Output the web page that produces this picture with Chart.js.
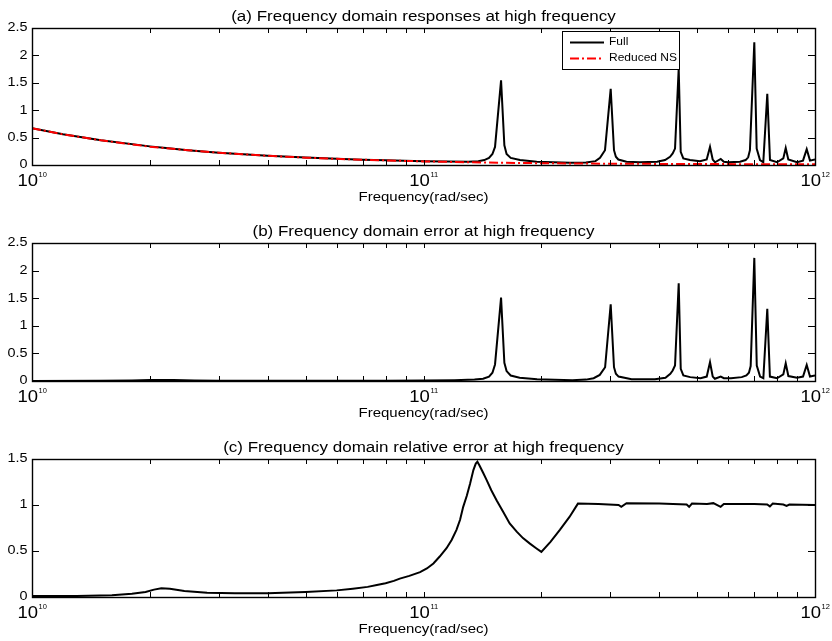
<!DOCTYPE html>
<html>
<head>
<meta charset="utf-8">
<script src="https://cdn.jsdelivr.net/npm/chart.js@4.4.0/dist/chart.umd.min.js"></script>
<style>
  html, body { margin: 0; padding: 0; background: #fff; }
  #wrap { position: relative; width: 832px; height: 641px; overflow: hidden; background: #fff; }
  canvas { position: absolute; left: 0; }
</style>
</head>
<body>
<div id="wrap">
  <canvas id="pa" width="832" height="214" style="top:0px"></canvas>
  <canvas id="pb" width="832" height="216" style="top:214px"></canvas>
  <canvas id="pc" width="832" height="211" style="top:430px"></canvas>
</div>
<script>
// ---- (a) full model response vs. reduced model (rad/sec, magnitude) ----
const freqFull = [
  1e10, 1.2e10, 1.5e10, 2e10, 2.2e10, 2.5e10, 3e10, 4e10, 5e10, 6e10, 7e10, 8e10, 1e11,
  1.15e11, 1.3e11, 1.38e11, 1.43e11, 1.47e11, 1.5e11, 1.523e11, 1.578e11, 1.609e11, 1.63e11, 1.67e11,
  1.764e11, 1.946e11, 2.37e11, 2.6e11, 2.75e11, 2.824e11, 2.908e11, 3.007e11, 3.066e11, 3.1e11,
  3.145e11, 3.3e11, 3.57e11,
  3.95e11, 4.14e11, 4.263e11, 4.33e11, 4.39e11, 4.486e11, 4.539e11, 4.609e11, 4.794e11, 5.085e11,
  5.289e11, 5.393e11, 5.479e11, 5.554e11, 5.744e11, 5.85e11, 6.0e11, 6.434e11,
  6.65e11, 6.75e11, 6.82e11, 6.998e11, 7.096e11, 7.236e11, 7.378e11, 7.553e11, 7.674e11, 7.998e11,
  8.299e11, 8.418e11, 8.547e11, 8.995e11, 9.318e11, 9.524e11, 9.71e11, 1e12
];
const magFull = [
  0.67, 0.56, 0.45, 0.34, 0.31, 0.27, 0.225, 0.17, 0.135, 0.113, 0.097, 0.086, 0.07,
  0.063, 0.06, 0.07, 0.09, 0.13, 0.2, 0.33, 1.545, 0.36, 0.2, 0.13,
  0.09, 0.06, 0.04, 0.045, 0.07, 0.13, 0.27, 1.39, 0.27, 0.15,
  0.1, 0.06, 0.05,
  0.06, 0.09, 0.15, 0.21, 0.3, 1.76, 0.24, 0.12, 0.09, 0.07,
  0.1, 0.33, 0.1, 0.05, 0.11, 0.06, 0.05, 0.06,
  0.09, 0.14, 0.27, 2.24, 0.3, 0.09, 0.05, 1.30, 0.09, 0.05,
  0.12, 0.31, 0.1, 0.05, 0.08, 0.29, 0.08, 0.1
];
const freqReduced = [
  1e10, 1.2e10, 1.5e10, 2e10, 2.5e10, 3e10, 4e10, 5e10, 6e10, 7e10, 8e10, 1e11,
  1.3e11, 1.6e11, 2e11, 2.5e11, 3e11, 4e11, 5e11, 6e11, 8e11, 1e12
];
const magReduced = [
  0.67, 0.56, 0.45, 0.335, 0.27, 0.225, 0.168, 0.134, 0.112, 0.096, 0.084, 0.066,
  0.05, 0.04, 0.033, 0.027, 0.024, 0.02, 0.018, 0.016, 0.014, 0.012
];

// ---- (b) absolute error ----
const freqErr = [
  1e10, 1.5e10, 1.8e10, 2e10, 2.15e10, 2.3e10, 2.6e10, 3e10, 4e10, 6e10, 8e10, 1e11,
  1.2e11, 1.35e11, 1.42e11, 1.47e11, 1.5e11, 1.523e11, 1.578e11, 1.609e11, 1.63e11, 1.67e11, 1.76e11, 1.95e11,
  2.4e11, 2.6e11, 2.72e11, 2.82e11, 2.91e11, 3.007e11, 3.066e11, 3.1e11, 3.15e11, 3.4e11,
  3.9e11, 4.15e11, 4.27e11, 4.33e11, 4.39e11, 4.486e11, 4.54e11, 4.61e11, 4.8e11, 5.1e11,
  5.29e11, 5.393e11, 5.48e11, 5.55e11, 5.744e11, 5.85e11, 6.1e11, 6.5e11,
  6.68e11, 6.78e11, 6.85e11, 6.998e11, 7.1e11, 7.24e11, 7.38e11, 7.553e11, 7.67e11, 8.0e11,
  8.3e11, 8.418e11, 8.55e11, 9.0e11, 9.32e11, 9.524e11, 9.71e11, 1e12
];
const magErr = [
  0.002, 0.004, 0.01, 0.016, 0.02, 0.017, 0.008, 0.004, 0.003, 0.004, 0.006, 0.01,
  0.015, 0.025, 0.04, 0.08, 0.15, 0.3, 1.51, 0.33, 0.18, 0.1, 0.06, 0.03,
  0.015, 0.025, 0.05, 0.11, 0.25, 1.39, 0.25, 0.13, 0.08, 0.03,
  0.03, 0.06, 0.13, 0.19, 0.28, 1.77, 0.22, 0.1, 0.07, 0.05,
  0.08, 0.34, 0.08, 0.04, 0.08, 0.05, 0.05, 0.07,
  0.1, 0.15, 0.27, 2.23, 0.28, 0.08, 0.05, 1.31, 0.08, 0.05,
  0.12, 0.32, 0.09, 0.06, 0.08, 0.29, 0.08, 0.1
];

// ---- (c) relative error ----
const freqRel = [
  1e10, 1.3e10, 1.6e10, 1.8e10, 1.95e10, 2.05e10, 2.14e10, 2.25e10, 2.45e10, 2.8e10, 3.3e10,
  4e10, 5e10, 6e10, 6.6e10, 7.2e10, 7.6e10, 8e10, 8.4e10, 8.7e10, 9.2e10, 9.8e10,
  1.02e11, 1.06e11, 1.1e11, 1.145e11, 1.18e11, 1.214e11, 1.24e11, 1.263e11, 1.29e11,
  1.315e11, 1.341e11, 1.36e11, 1.373e11, 1.39e11, 1.42e11, 1.45e11, 1.49e11, 1.538e11,
  1.6e11, 1.66e11, 1.73e11, 1.795e11, 1.87e11, 1.94e11, 2.0e11, 2.11e11, 2.23e11, 2.36e11, 2.48e11,
  2.8e11, 3.15e11, 3.2e11, 3.3e11, 4.0e11, 4.7e11, 4.77e11, 4.85e11, 5.3e11, 5.5e11, 5.74e11,
  5.85e11, 7.0e11, 7.55e11, 7.67e11, 7.8e11, 8.3e11, 8.46e11, 8.6e11, 1e12
];
const magRel = [
  0.01, 0.012, 0.02, 0.035, 0.055, 0.08, 0.095, 0.09, 0.065, 0.045, 0.04,
  0.04, 0.055, 0.072, 0.09, 0.11, 0.13, 0.15, 0.175, 0.2, 0.23, 0.27,
  0.31, 0.365, 0.44, 0.53, 0.62, 0.73, 0.84, 0.98, 1.1,
  1.23, 1.38, 1.45, 1.47, 1.43, 1.35, 1.27, 1.16, 1.05,
  0.92, 0.8, 0.71, 0.64, 0.58, 0.53, 0.49, 0.6, 0.73, 0.87, 1.015,
  1.01, 1.0, 0.98, 1.02, 1.015, 1.005, 0.98, 1.015, 1.01, 1.02, 0.98,
  1.01, 1.01, 1.005, 0.985, 1.015, 1.005, 0.99, 1.005, 1.0
];

// ---- axes ----
const xMajorTicks = [1e10, 1e11, 1e12];
const yTicksAB = [0, 0.5, 1, 1.5, 2, 2.5];
const yTicksC = [0, 0.5, 1, 1.5];
const xLabel = 'Frequency(rad/sec)';
const titles = [
  '(a) Frequency domain responses at high frequency',
  '(b) Frequency domain error at high frequency',
  '(c) Frequency domain relative error at high frequency'
];

const FONT = '"Liberation Sans", Arial, Helvetica, sans-serif';
const SQ = 0.85; // glyphs are a little flatter than they are wide

function drawText(ctx, s, x, y, size, align, base) {
  ctx.save();
  ctx.translate(x, y);
  ctx.scale(1, SQ);
  ctx.font = size + 'px ' + FONT;
  ctx.textAlign = align;
  ctx.textBaseline = base;
  ctx.fillStyle = '#000';
  ctx.fillText(s, 0, 0);
  ctx.restore();
}

const pts = (xs, ys) => xs.map((x, i) => ({ x: x, y: ys[i] }));

// frame, inward ticks, labels, title and legend in the style of a classic axes box
const framePlugin = {
  id: 'frame',
  afterDraw(chart, args, opts) {
    const ctx = chart.ctx;
    const a = chart.chartArea;
    const xs = chart.scales.x, ys = chart.scales.y;
    ctx.save();
    ctx.strokeStyle = '#000';
    // ticks
    ctx.lineWidth = 1;
    ctx.beginPath();
    for (let e = 10; e < 12; e++) {
      for (let m = 1; m <= 9; m++) {
        const v = m * Math.pow(10, e);
        const px = Math.round(xs.getPixelForValue(v)) + 0.5;
        ctx.moveTo(px, a.bottom); ctx.lineTo(px, a.bottom - 5);
        ctx.moveTo(px, a.top); ctx.lineTo(px, a.top + 5);
      }
    }
    opts.yTicks.forEach(v => {
      const py = Math.round(ys.getPixelForValue(v)) + 0.5;
      ctx.moveTo(a.left, py); ctx.lineTo(a.left + 7, py);
      ctx.moveTo(a.right, py); ctx.lineTo(a.right - 7, py);
    });
    ctx.stroke();
    // legend box
    if (opts.legend) {
      const lx = a.right - 253, ly = a.top + 3, lw = 117, lh = 38;
      ctx.fillStyle = '#fff';
      ctx.fillRect(lx, ly, lw, lh);
      ctx.lineWidth = 1;
      ctx.strokeStyle = '#000';
      ctx.strokeRect(lx + 0.5, ly + 0.5, lw, lh);
      chart.data.datasets.forEach((ds, i) => {
        const yy = ly + 11.5 + i * 16;
        ctx.save();
        ctx.strokeStyle = ds.borderColor;
        ctx.lineWidth = ds.borderWidth;
        ctx.setLineDash(ds.borderDash || []);
        ctx.beginPath();
        ctx.moveTo(lx + 8, yy); ctx.lineTo(lx + 42, yy);
        ctx.stroke();
        ctx.restore();
        drawText(ctx, ds.label, lx + 47, yy, 12, 'left', 'middle');
      });
    }
    // box
    ctx.lineWidth = 1.4;
    ctx.strokeStyle = '#000';
    ctx.strokeRect(Math.round(a.left) + 0.5, Math.round(a.top) + 0.5,
                   Math.round(a.right - a.left), Math.round(a.bottom - a.top));
    ctx.restore();

    // y tick labels
    opts.yTicks.forEach(v => {
      drawText(ctx, String(v), a.left - 4.5, ys.getPixelForValue(v), 14.4, 'right', 'middle');
    });
    // x tick labels as 10^n
    xMajorTicks.forEach(v => {
      const p = xs.getPixelForValue(v);
      const ex = String(Math.round(Math.log10(v)));
      ctx.font = '18.5px ' + FONT;
      const wb = ctx.measureText('10').width;
      ctx.font = '7.5px ' + FONT;
      const we = ctx.measureText(ex).width;
      const x0 = p - (wb + we) / 2;
      drawText(ctx, '10', x0, a.bottom + 21, 18.5, 'left', 'alphabetic');
      drawText(ctx, ex, x0 + wb + 0.5, a.bottom + 12, 7.5, 'left', 'alphabetic');
    });
    // axis label and title
    const cx = (a.left + a.right) / 2;
    drawText(ctx, xLabel, cx, a.bottom + 36, 15, 'center', 'alphabetic');
    drawText(ctx, opts.title, cx, a.top - 7.5, 17, 'center', 'alphabetic');
  }
};

function makeChart(id, datasets, yMax, yTicks, title, legend, pad) {
  return new Chart(document.getElementById(id), {
    type: 'line',
    data: { datasets: datasets },
    options: {
      responsive: false,
      animation: false,
      events: [],
      layout: { padding: pad },
      elements: { point: { radius: 0 }, line: { tension: 0, borderCapStyle: 'butt' } },
      plugins: {
        legend: { display: false },
        title: { display: false },
        tooltip: { enabled: false },
        frame: { title: title, yTicks: yTicks, legend: legend }
      },
      scales: {
        x: {
          type: 'logarithmic', min: 1e10, max: 1e12,
          grid: { display: false }, border: { display: false },
          ticks: { display: false },
          afterFit: s => { s.height = 0; }
        },
        y: {
          type: 'linear', min: 0, max: yMax,
          grid: { display: false }, border: { display: false },
          ticks: { display: false, stepSize: 0.5 },
          afterFit: s => { s.width = 0; }
        }
      }
    },
    plugins: [framePlugin]
  });
}

makeChart('pa', [
  { label: 'Full', data: pts(freqFull, magFull), borderColor: '#000', borderWidth: 2, order: 2 },
  { label: 'Reduced NS', data: pts(freqReduced, magReduced), borderColor: '#ff0000', borderWidth: 2,
    borderDash: [9, 3, 2, 3], order: 1 }
], 2.5, yTicksAB, titles[0], true, { left: 32, right: 17, top: 28, bottom: 49 });

makeChart('pb', [
  { label: 'Error', data: pts(freqErr, magErr), borderColor: '#000', borderWidth: 2 }
], 2.5, yTicksAB, titles[1], false, { left: 32, right: 17, top: 29, bottom: 49 });

makeChart('pc', [
  { label: 'Relative error', data: pts(freqRel, magRel), borderColor: '#000', borderWidth: 2 }
], 1.5, yTicksC, titles[2], false, { left: 32, right: 17, top: 29, bottom: 44 });
</script>
</body>
</html>
